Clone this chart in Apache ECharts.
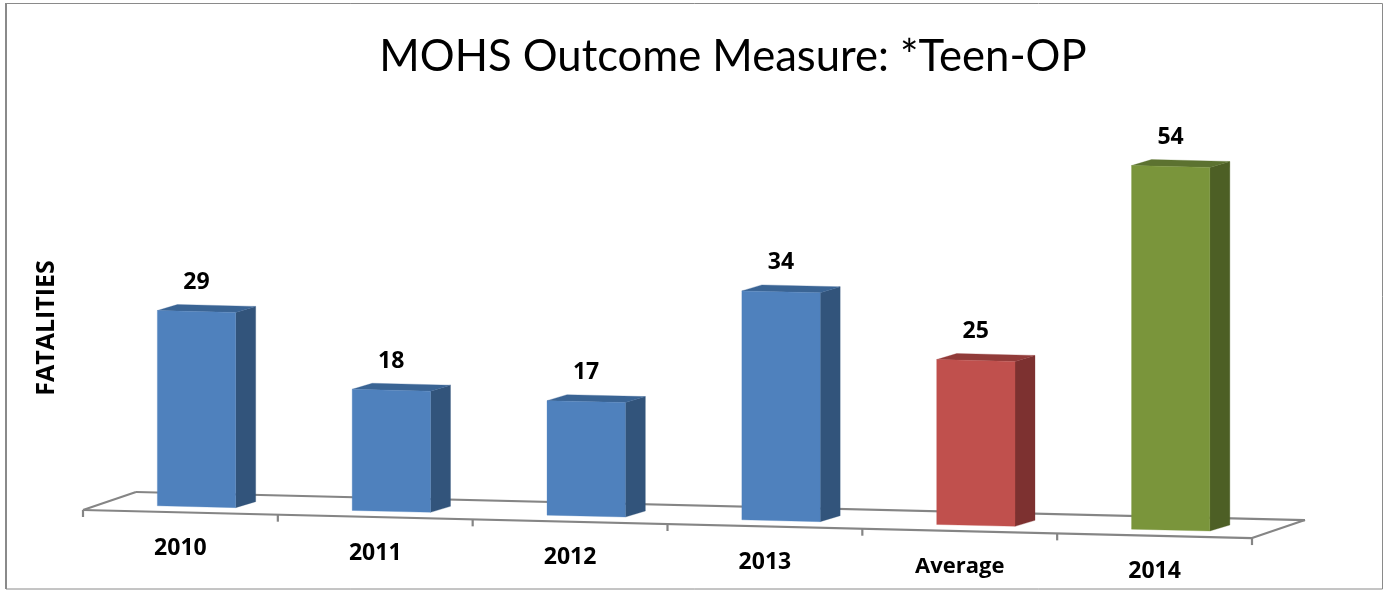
<!DOCTYPE html>
<html>
<head>
<meta charset="utf-8">
<title>MOHS Outcome Measure</title>
<script src="https://cdn.jsdelivr.net/npm/echarts@6/dist/echarts.min.js"></script>
<style>
  html, body { margin: 0; padding: 0; background: #fff; }
  #main { width: 1385px; height: 590px; }
</style>
</head>
<body>
<div id="main"></div>
<script>
  var categories = ['2010', '2011', '2012', '2013', 'Average', '2014'];
  // the Average bar is drawn at 24.5, its label shows the rounded 25
  var fatalities = [29, 18, 17, 34, 24.5, 54];

  // colour of each bar: front, side, top
  var frontColors = ['#4f81bd', '#4f81bd', '#4f81bd', '#4f81bd', '#c0504d', '#7a953b'];
  var sideColors = ['#32547b', '#32547b', '#32547b', '#32547b', '#7d3130', '#4d5f25'];
  var topColors = ['#3a6494', '#3a6494', '#3a6494', '#3a6494', '#913b39', '#5c7230'];

  var FONT = 'Lato, sans-serif';
  var BOLD_FONT = '"Open Sans", sans-serif';
  var SLOPE = 0.024;      // the floor runs downhill to the right
  var GRID_LEFT = 83;
  var FLOOR_DEPTH = [53, -18];
  var BAR_DEPTH = [20, -6];
  var BAR_RATIO = 0.402;
  var GRAY = '#858585';

  // slide a point down according to its x, this gives the tilted look
  function tilt(x, y) {
    return [x, y + SLOPE * (x - GRID_LEFT)];
  }

  function poly(points, fill) {
    return { type: 'polygon', shape: { points: points }, style: { fill: fill, stroke: fill, lineWidth: 0.3 } };
  }

  function line(a, b) {
    return {
      type: 'line',
      shape: { x1: a[0], y1: a[1], x2: b[0], y2: b[1] },
      style: { stroke: GRAY, lineWidth: 2.2, fill: null }
    };
  }

  function renderFloor(params, api) {
    var band = api.size([1, 0])[0];
    var start = api.coord([0, 0]);
    var left = start[0] - band / 2;
    var right = left + band * categories.length;
    var y0 = start[1];
    var a = tilt(left, y0);
    var b = tilt(right, y0);
    var c = [b[0] + FLOOR_DEPTH[0], b[1] + FLOOR_DEPTH[1]];
    var d = [a[0] + FLOOR_DEPTH[0], a[1] + FLOOR_DEPTH[1]];
    var children = [line(a, b), line(b, c), line(c, d), line(d, a)];
    for (var i = 0; i <= categories.length; i++) {
      var t = tilt(left + band * i, y0);
      children.push(line(t, [t[0], t[1] + 7]));
    }
    return { type: 'group', children: children };
  }

  function renderBar(params, api) {
    var i = api.value(0);
    var base = api.coord([i, 0]);
    var head = api.coord([i, api.value(1)]);
    var band = api.size([1, 0])[0];
    var w = band * BAR_RATIO;
    // the bar stands in the middle of the floor depth
    var off = [(FLOOR_DEPTH[0] - BAR_DEPTH[0]) / 2, (FLOOR_DEPTH[1] - BAR_DEPTH[1]) / 2];
    var x0 = base[0] + off[0] - w / 2 - 0.4;
    var x1 = x0 + w;
    var dx = BAR_DEPTH[0];
    var dy = BAR_DEPTH[1];

    var tl = tilt(x0, head[1] + off[1]);
    var tr = tilt(x1, head[1] + off[1]);
    var bl = tilt(x0, base[1] + off[1]);
    var br = tilt(x1, base[1] + off[1]);
    var mid = base[0] + off[0] - 0.5;
    var axisPos = tilt(base[0], base[1]);
    // Average is set a little smaller than the years
    var catSize = categories[i] === 'Average' ? 22 : 23;

    return {
      type: 'group',
      children: [
        poly([tr, [tr[0] + dx, tr[1] + dy], [br[0] + dx, br[1] + dy], br], sideColors[i]),
        poly([tl, [tl[0] + dx, tl[1] + dy], [tr[0] + dx, tr[1] + dy], tr], topColors[i]),
        poly([tl, tr, br, bl], frontColors[i]),
        {
          type: 'text',
          style: {
            x: mid, y: tl[1] - 28, text: String(Math.round(api.value(1))),
            fill: '#000', font: 'bold 23px ' + BOLD_FONT,
            textAlign: 'center', textVerticalAlign: 'middle'
          }
        },
        {
          type: 'text',
          style: {
            x: axisPos[0], y: axisPos[1] + 36, text: categories[i],
            fill: '#000', font: 'bold ' + catSize + 'px ' + BOLD_FONT,
            textAlign: 'center', textVerticalAlign: 'middle'
          }
        }
      ]
    };
  }

  var myChart = echarts.init(document.getElementById('main'));
  var option = {
    animation: false,
    title: {
      text: 'MOHS Outcome Measure: *Teen-OP',
      left: 728,
      top: 30,
      textAlign: 'center',
      textStyle: { fontFamily: FONT, fontWeight: 'normal', fontSize: 43.6, color: '#000' }
    },
    grid: { left: GRID_LEFT, width: 1169, top: 106, height: 404 },
    xAxis: { type: 'category', data: categories, show: false },
    yAxis: { type: 'value', min: 0, max: 60, show: false },
    graphic: [
      {
        type: 'rect',
        shape: { x: 6, y: 3.5, width: 1376.5, height: 585.5 },
        style: { fill: 'none', stroke: '#8a8a8a', lineWidth: 1 }
      },
      {
        type: 'rect',
        shape: { x: 5, y: 3, width: 2, height: 586 },
        style: { fill: '#8a8a8a' }
      },
      {
        type: 'text',
        x: 47,
        y: 328,
        rotation: Math.PI / 2,
        style: {
          text: 'FATALITIES', fill: '#000', font: 'bold 25px ' + BOLD_FONT,
          textAlign: 'center', textVerticalAlign: 'middle'
        }
      }
    ],
    series: [
      {
        type: 'custom',
        silent: true,
        renderItem: renderFloor,
        clip: false,
        z: 1,
        data: [[0, 0]]
      },
      {
        type: 'custom',
        renderItem: renderBar,
        clip: false,
        z: 2,
        encode: { x: 0, y: 1 },
        data: fatalities.map(function (v, i) {
          return [i, v];
        })
      }
    ]
  };
  myChart.setOption(option);
</script>
</body>
</html>
